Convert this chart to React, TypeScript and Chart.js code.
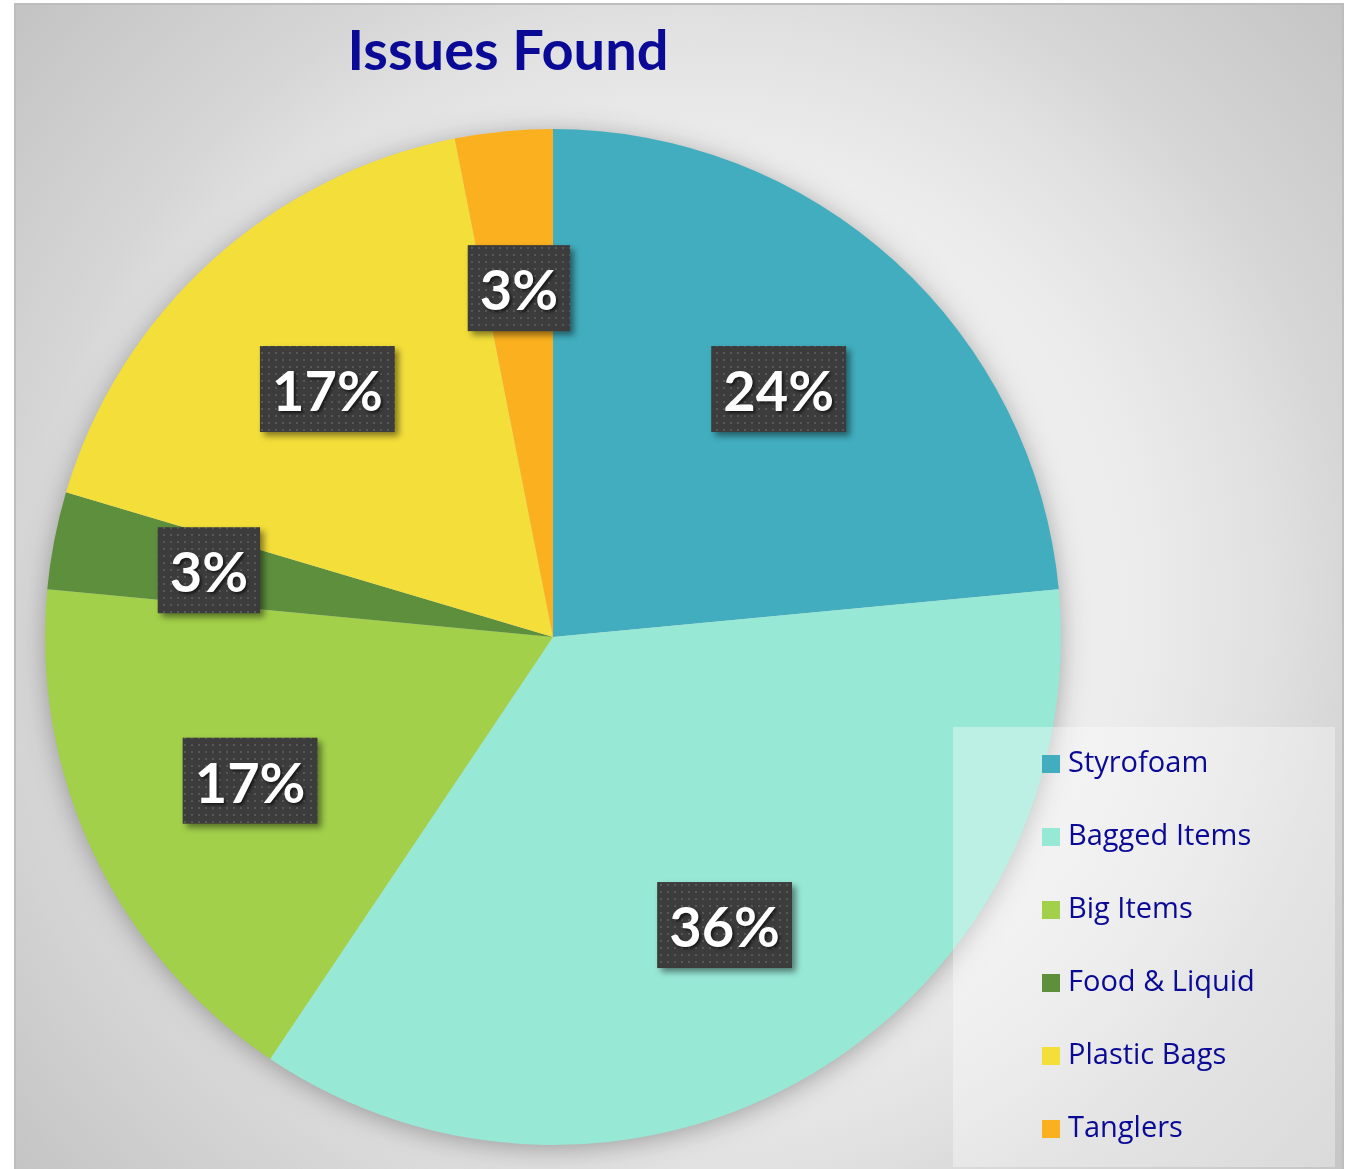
import React, { useEffect, useRef } from "react";
import { Chart, registerables } from "chart.js";

Chart.register(...registerables);

const categories = ["Styrofoam", "Bagged Items", "Big Items", "Food & Liquid", "Plastic Bags", "Tanglers"];
const shares = [23.5, 35.9, 17.1, 3.1, 17.3, 3.1];
const sliceColors = ["#41adbe", "#98e8d6", "#a2d04a", "#5e8f3d", "#f3de3a", "#fbb01f"];
const chartTitle = "Issues Found";

const W = 1350;
const H = 1169;

function makePattern(ctx: CanvasRenderingContext2D) {
  const c = document.createElement("canvas");
  c.width = 7;
  c.height = 7;
  const p = c.getContext("2d")!;
  p.fillStyle = "#3c3c3c";
  p.fillRect(0, 0, 7, 7);
  p.fillStyle = "#575757";
  p.fillRect(2, 2, 2, 2);
  return ctx.createPattern(c, "repeat");
}

const backgroundPlugin = {
  id: "bgBox",
  beforeDraw(chart: any) {
    const ctx = chart.ctx as CanvasRenderingContext2D;
    ctx.save();
    ctx.fillStyle = "#ffffff";
    ctx.fillRect(0, 0, W, H);
    const bx = 15, by = 4, bw = 1328, bh = H - 4;
    const g = ctx.createRadialGradient(690, 600, 0, 690, 600, 900);
    g.addColorStop(0, "#f6f6f6");
    g.addColorStop(0.5, "#ececec");
    g.addColorStop(0.65, "#e0e0e0");
    g.addColorStop(0.74, "#d6d6d6");
    g.addColorStop(1, "#c3c3c3");
    ctx.fillStyle = g;
    ctx.fillRect(bx, by, bw, bh);
    ctx.strokeStyle = "#bdbdbd";
    ctx.lineWidth = 2;
    ctx.strokeRect(bx, by, bw, bh + 10);

    // title
    ctx.fillStyle = "#0a0a96";
    ctx.font = "bold 56px Lato";
    ctx.textAlign = "center";
    ctx.textBaseline = "alphabetic";
    ctx.fillText(chartTitle, 508, 70);

    // soft shadow under the pie
    const meta = chart.getDatasetMeta(0);
    const arc = meta.data[0];
    if (arc) {
      ctx.shadowColor = "rgba(0,0,0,0.35)";
      ctx.shadowBlur = 28;
      ctx.shadowOffsetY = 4;
      ctx.fillStyle = "#d0d0d0";
      ctx.beginPath();
      ctx.arc(arc.x, arc.y, arc.outerRadius - 2, 0, Math.PI * 2);
      ctx.fill();
    }
    ctx.restore();
  },
};

const labelsPlugin = {
  id: "boxLabels",
  afterDatasetsDraw(chart: any) {
    const ctx = chart.ctx as CanvasRenderingContext2D;
    const meta = chart.getDatasetMeta(0);
    const data = chart.data.datasets[0].data as number[];
    const total = data.reduce((a, b) => a + b, 0);
    const pattern = makePattern(ctx);
    ctx.save();
    meta.data.forEach((el: any, i: number) => {
      const mid = (el.startAngle + el.endAngle) / 2;
      const frac = data[i] / total < 0.05 ? 0.69 : 0.66;
      const r = el.outerRadius * frac;
      const cx = el.x + Math.cos(mid) * r;
      const cy = el.y + Math.sin(mid) * r;
      const txt = Math.round((data[i] / total) * 100) + "%";
      ctx.font = "bold 56px Lato";
      const tw = ctx.measureText(txt).width;
      const bw = tw + 24;
      const bh = 86;
      ctx.shadowColor = "rgba(0,0,0,0.45)";
      ctx.shadowBlur = 6;
      ctx.shadowOffsetX = 4;
      ctx.shadowOffsetY = 4;
      ctx.fillStyle = pattern || "#3c3c3c";
      ctx.fillRect(cx - bw / 2, cy - bh / 2, bw, bh);
      ctx.shadowColor = "rgba(0,0,0,0.6)";
      ctx.shadowBlur = 3;
      ctx.shadowOffsetX = 2;
      ctx.shadowOffsetY = 2;
      ctx.fillStyle = "#ffffff";
      ctx.textAlign = "center";
      ctx.textBaseline = "middle";
      ctx.fillText(txt, cx, cy + 4);
    });
    ctx.restore();
  },
};

const legendPlugin = {
  id: "sideLegend",
  afterDraw(chart: any) {
    const ctx = chart.ctx as CanvasRenderingContext2D;
    const labels = chart.data.labels as string[];
    const colors = chart.data.datasets[0].backgroundColor as string[];
    ctx.save();
    ctx.fillStyle = "rgba(255,255,255,0.35)";
    ctx.fillRect(953, 727, 382, 440);
    ctx.font = "29px 'Open Sans'";
    ctx.textAlign = "left";
    ctx.textBaseline = "middle";
    labels.forEach((lab, i) => {
      const y = 764 + i * 73;
      ctx.fillStyle = colors[i];
      ctx.fillRect(1042, y - 9, 18, 18);
      ctx.fillStyle = "#0a0a96";
      ctx.fillText(lab, 1068, y);
    });
    ctx.restore();
  },
};

export default function App() {
  const ref = useRef<HTMLCanvasElement | null>(null);
  useEffect(() => {
    document.body.style.margin = "0";
    const canvas = ref.current!;
    const chart = new Chart(canvas, {
      type: "pie",
      data: {
        labels: categories,
        datasets: [
          {
            data: shares,
            backgroundColor: sliceColors,
            borderWidth: 0,
          },
        ],
      },
      options: {
        responsive: false,
        animation: false,
        devicePixelRatio: 1,
        layout: { padding: { left: 45, right: 289, top: 129, bottom: 24 } },
        plugins: {
          legend: { display: false },
          title: { display: false },
          tooltip: { enabled: false },
        },
      },
      plugins: [backgroundPlugin, labelsPlugin, legendPlugin],
    });
    return () => chart.destroy();
  }, []);
  return <canvas ref={ref} width={W} height={H} style={{ display: "block", width: W, height: H }} />;
}
